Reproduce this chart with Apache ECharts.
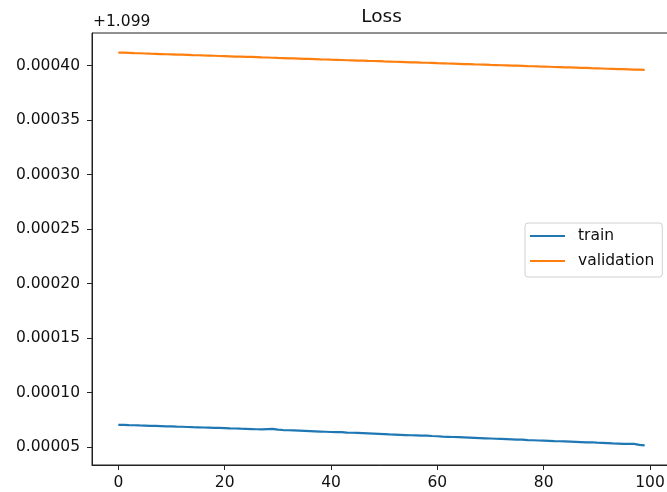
<!DOCTYPE html>
<html>
<head>
<meta charset="utf-8">
<script src="https://cdn.jsdelivr.net/npm/echarts@6/dist/echarts.min.js"></script>
<style>html,body{margin:0;padding:0;background:#fff;}#c{width:667px;height:492px;}</style>
</head>
<body>
<div id="c"></div>
<script>
const OFFSET_LABEL = "+1.099";
const title = "Loss";
const seriesNames = ["train", "validation"];
const xTicks = [0, 20, 40, 60, 80, 100];
const yTicks = [0.00005, 0.00010, 0.00015, 0.00020, 0.00025, 0.00030, 0.00035, 0.00040];
// loss values minus the 1.099 offset
const train = [70.4e-6,70.3e-6,70.1e-6,70.0e-6,69.8e-6,69.7e-6,69.5e-6,69.4e-6,69.2e-6,69.0e-6,
68.9e-6,68.7e-6,68.6e-6,68.4e-6,68.2e-6,68.1e-6,67.9e-6,67.8e-6,67.6e-6,67.5e-6,
67.3e-6,67.1e-6,67.0e-6,66.8e-6,66.7e-6,66.5e-6,66.3e-6,66.2e-6,66.4e-6,66.6e-6,
65.9e-6,65.6e-6,65.4e-6,65.2e-6,65.0e-6,64.8e-6,64.6e-6,64.4e-6,64.2e-6,64.0e-6,
63.8e-6,63.6e-6,63.7e-6,63.3e-6,63.1e-6,62.9e-6,62.7e-6,62.5e-6,62.3e-6,62.1e-6,
61.9e-6,61.6e-6,61.4e-6,61.2e-6,61.0e-6,60.8e-6,60.6e-6,60.4e-6,60.5e-6,60.1e-6,
59.9e-6,59.6e-6,59.4e-6,59.2e-6,59.0e-6,58.8e-6,58.6e-6,58.4e-6,58.2e-6,58.0e-6,
57.8e-6,57.6e-6,57.4e-6,57.2e-6,57.0e-6,56.8e-6,56.7e-6,56.4e-6,56.2e-6,56.0e-6,
55.8e-6,55.6e-6,55.4e-6,55.3e-6,55.1e-6,54.9e-6,54.7e-6,54.5e-6,54.2e-6,54.4e-6,
54.0e-6,53.8e-6,53.6e-6,53.3e-6,53.1e-6,52.9e-6,52.8e-6,52.9e-6,52.0e-6,51.6e-6];
const validation = [412.0e-6,411.9e-6,411.7e-6,411.5e-6,411.4e-6,411.2e-6,411.0e-6,410.9e-6,410.7e-6,410.5e-6,
410.4e-6,410.2e-6,410.1e-6,409.9e-6,409.7e-6,409.6e-6,409.4e-6,409.3e-6,409.1e-6,408.9e-6,
408.8e-6,408.6e-6,408.4e-6,408.3e-6,408.1e-6,408.0e-6,407.8e-6,407.6e-6,407.5e-6,407.3e-6,
407.1e-6,407.0e-6,406.8e-6,406.7e-6,406.5e-6,406.3e-6,406.2e-6,406.0e-6,405.8e-6,405.7e-6,
405.5e-6,405.4e-6,405.2e-6,405.0e-6,404.9e-6,404.7e-6,404.6e-6,404.4e-6,404.3e-6,404.1e-6,
403.9e-6,403.8e-6,403.6e-6,403.5e-6,403.3e-6,403.1e-6,403.0e-6,402.8e-6,402.7e-6,402.5e-6,
402.3e-6,402.2e-6,402.0e-6,401.9e-6,401.7e-6,401.5e-6,401.4e-6,401.2e-6,401.1e-6,400.9e-6,
400.7e-6,400.6e-6,400.4e-6,400.3e-6,400.1e-6,400.0e-6,399.8e-6,399.6e-6,399.5e-6,399.3e-6,
399.2e-6,399.0e-6,398.8e-6,398.7e-6,398.5e-6,398.4e-6,398.2e-6,398.0e-6,397.9e-6,397.7e-6,
397.6e-6,397.4e-6,397.2e-6,397.1e-6,396.9e-6,396.8e-6,396.6e-6,396.4e-6,396.3e-6,396.1e-6];

const FONT = "DejaVu Sans";
const chart = echarts.init(document.getElementById('c'), null, {renderer: 'canvas'});
const toPairs = arr => arr.map((v, i) => [i, v]);
chart.setOption({
  animation: false,
  backgroundColor: '#fff',
  graphic: [
    {type: 'text', x: 381.5, y: 17,
     style: {text: title, font: '18.5px "DejaVu Sans"', fill: '#111', textAlign: 'center', textVerticalAlign: 'middle'}},
    {type: 'text', x: 93, y: 22,
     style: {text: OFFSET_LABEL, font: '15.5px "DejaVu Sans"', fill: '#111', textAlign: 'left', textVerticalAlign: 'middle'}}
  ],
  grid: {left: 92, top: 33, width: 579, height: 432, show: true, borderColor: '#222', borderWidth: 1,
    containLabel: false, outerBoundsMode: 'none'},
  legend: {
    left: 525, top: 223, orient: 'vertical',
    data: seriesNames.map(n => ({name: n, icon: 'rect'})),
    itemWidth: 35, itemHeight: 2, itemGap: 7,
    padding: [4, 8, 7, 5],
    borderColor: '#d0d0d0', borderWidth: 1, borderRadius: 3,
    textStyle: {fontFamily: FONT, fontSize: 15.5, color: '#111', lineHeight: 18, padding: [0, 0, 0, 8]}
  },
  xAxis: {
    type: 'value', min: -4.95, max: 103.95,
    splitLine: {show: false},
    axisLine: {show: true, onZero: false, lineStyle: {color: '#222', width: 1}},
    axisTick: {show: true, length: 5, lineStyle: {color: '#222'}, customValues: xTicks},
    axisLabel: {fontFamily: FONT, fontSize: 15.5, color: '#111', margin: 10, customValues: xTicks,
      formatter: v => String(v)}
  },
  yAxis: {
    type: 'value', min: 33.5e-6, max: 430e-6,
    splitLine: {show: false},
    axisLine: {show: true, onZero: false, lineStyle: {color: '#222', width: 1}},
    axisTick: {show: true, length: 5, lineStyle: {color: '#222'}, customValues: yTicks},
    axisLabel: {fontFamily: FONT, fontSize: 15.5, color: '#111', margin: 12, customValues: yTicks,
      formatter: v => v.toFixed(5)}
  },
  series: [
    {name: seriesNames[0], type: 'line', data: toPairs(train), showSymbol: false, symbol: 'none',
     lineStyle: {color: '#1f77b4', width: 2.2}, itemStyle: {color: '#1f77b4'}},
    {name: seriesNames[1], type: 'line', data: toPairs(validation), showSymbol: false, symbol: 'none',
     lineStyle: {color: '#ff7f0e', width: 2.2}, itemStyle: {color: '#ff7f0e'}}
  ]
});
</script>
</body>
</html>
